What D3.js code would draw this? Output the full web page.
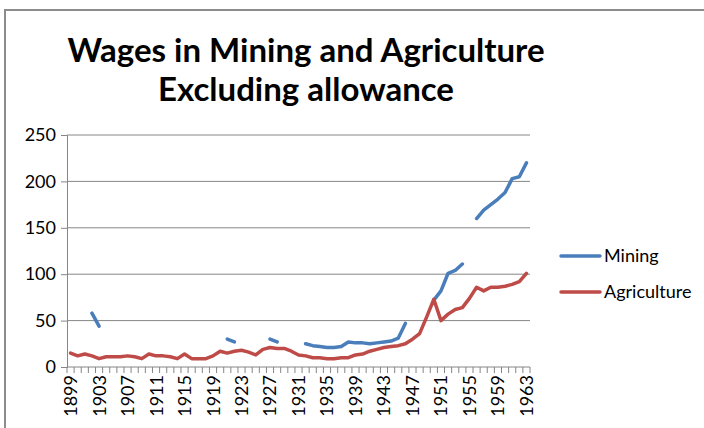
<!DOCTYPE html>
<html>
<head>
<meta charset="utf-8">
<script src="https://cdn.jsdelivr.net/npm/d3@7"></script>
<style>
  html, body { margin: 0; padding: 0; background: #fff; }
  svg { display: block; font-family: "Lato", "Open Sans", sans-serif; }
</style>
</head>
<body>
<svg id="chart" width="704" height="428"></svg>
<script>
// Years on the category axis
const years = d3.range(1899, 1964);

// Mining wages (null where no figure is recorded)
const mining = [
  null, null, null, 58, 44, null, null, null, null, null,   // 1899-1908
  null, null, null, null, null, null, null, null, null, null, // 1909-1918
  null, null, 30, 27, null, null, null, null, 30, 27,        // 1919-1928
  null, null, null, 25, 23, 22, 21, 21, 22, 27,              // 1929-1938
  26, 26, 25, 26, 27, 28, 31, 47, null, null,                // 1939-1948
  null, 72, 82, 101, 104, 111, null, 160, 169, 175,          // 1949-1958
  181, 188, 203, 205, 220                                    // 1959-1963
];

// Agriculture wages
const agriculture = [
  15, 12, 14, 12, 9, 11, 11, 11, 12, 11,   // 1899-1908
  9, 14, 12, 12, 11, 9, 14, 9, 9, 9,       // 1909-1918
  12, 17, 15, 17, 18, 16, 13, 19, 21, 20,  // 1919-1928
  20, 17, 13, 12, 10, 10, 9, 9, 10, 10,    // 1929-1938
  13, 14, 17, 19, 21, 22, 23, 25, 30, 36,  // 1939-1948
  54, 73, 50, 57, 62, 64, 74, 86, 82, 86,  // 1949-1958
  86, 87, 89, 92, 101                      // 1959-1963
];

const yTicks = [0, 50, 100, 150, 200, 250];
const labelYears = years.filter((y, i) => i % 4 === 0);

const series = [
  { name: "Mining", values: mining, color: "#4A7EBB" },
  { name: "Agriculture", values: agriculture, color: "#BE4B48" }
];

const svg = d3.select("#chart");

// Outer frame of the chart area
svg.append("path")
  .attr("d", "M5,430 L5,10 L706,10")
  .attr("fill", "none")
  .attr("stroke", "#8c8c8c")
  .attr("stroke-width", 2);

const plot = { left: 67, right: 530, top: 135, bottom: 367 };

const x = d3.scaleBand()
  .domain(years)
  .range([plot.left, plot.right])
  .padding(0);

const y = d3.scaleLinear()
  .domain([0, 250])
  .range([plot.bottom, plot.top]);

const cx = yr => x(yr) + x.bandwidth() / 2;

// Horizontal gridlines
svg.append("g")
  .selectAll("line")
  .data(yTicks.filter(d => d > 0))
  .join("line")
  .attr("x1", plot.left).attr("x2", plot.right)
  .attr("y1", d => y(d)).attr("y2", d => y(d))
  .attr("stroke", "#868686").attr("stroke-width", 1);

// Y axis
const yAxis = svg.append("g")
  .attr("transform", `translate(${plot.left},0)`)
  .call(d3.axisLeft(y).tickValues(yTicks).tickSize(6).tickPadding(5));
yAxis.select(".domain").attr("stroke", "#868686");
yAxis.selectAll(".tick line").attr("stroke", "#868686");
yAxis.selectAll(".tick text")
  .attr("font-size", 18).attr("fill", "#000")
  .attr("font-family", "Lato, sans-serif");

// X axis line
svg.append("line")
  .attr("x1", plot.left).attr("x2", plot.right)
  .attr("y1", plot.bottom).attr("y2", plot.bottom)
  .attr("stroke", "#868686").attr("stroke-width", 1);

// Tick marks at category boundaries
const boundaries = years.map(yr => x(yr)).concat([x(years[years.length - 1]) + x.bandwidth()]);
svg.append("g")
  .selectAll("line")
  .data(boundaries)
  .join("line")
  .attr("x1", d => d).attr("x2", d => d)
  .attr("y1", plot.bottom).attr("y2", plot.bottom + 6)
  .attr("stroke", "#868686").attr("stroke-width", 1);

// Rotated year labels
svg.append("g")
  .selectAll("text")
  .data(labelYears)
  .join("text")
  .attr("transform", d => `translate(${cx(d)},${plot.bottom + 8}) rotate(-90)`)
  .attr("text-anchor", "end")
  .attr("dy", "0.36em")
  .attr("font-size", 18)
  .attr("fill", "#000")
  .text(d => d);

// Series lines
const line = d3.line()
  .defined(d => d.v !== null)
  .x(d => cx(d.year))
  .y(d => y(d.v));

series.forEach(s => {
  svg.append("path")
    .datum(years.map((yr, i) => ({ year: yr, v: s.values[i] })))
    .attr("fill", "none")
    .attr("stroke", s.color)
    .attr("stroke-width", 3.5)
    .attr("stroke-linejoin", "round")
    .attr("stroke-linecap", "round")
    .attr("d", line);
});

// Title
const title = svg.append("text")
  .attr("text-anchor", "middle")
  .attr("font-size", 33)
  .attr("font-weight", "bold")
  .attr("fill", "#000");
title.append("tspan").attr("x", 306).attr("y", 62).text("Wages in Mining and Agriculture");
title.append("tspan").attr("x", 306).attr("y", 101).text("Excluding allowance");

// Legend
const legend = svg.append("g")
  .selectAll("g")
  .data(series)
  .join("g")
  .attr("transform", (d, i) => `translate(561,${256 + i * 36})`);
legend.append("line")
  .attr("x1", 0).attr("x2", 39)
  .attr("stroke", d => d.color)
  .attr("stroke-width", 3.5)
  .attr("stroke-linecap", "round");
legend.append("text")
  .attr("x", 43).attr("y", 6)
  .attr("font-size", 18)
  .attr("fill", "#000")
  .text(d => d.name);
</script>
</body>
</html>
